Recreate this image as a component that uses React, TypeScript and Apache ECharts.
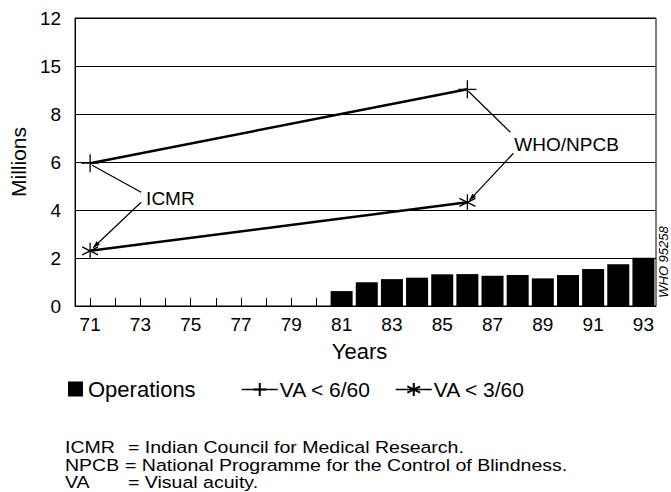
import React, { useEffect, useRef } from "react";
import * as echarts from "echarts";

// ---- data ----
const opYears = [81, 82, 83, 84, 85, 86, 87, 88, 89, 90, 91, 92, 93];
const operations = [0.62, 0.99, 1.12, 1.18, 1.32, 1.33, 1.26, 1.29, 1.15, 1.29, 1.54, 1.74, 2.01];
const surveyYears = [71, 86];
const va6 = [5.95, 9.03];
const va3 = [2.3, 4.32];
const yTickValues = [0, 2, 4, 6, 8, 10, 12];
const yTickLabels = ["0", "2", "4", "6", "8", "15", "12"];
const xTickValues = [71, 72, 73, 74, 75, 76, 77, 78, 79, 80, 81, 82, 83, 84, 85, 86, 87, 88, 89, 90, 91, 92, 93];
const xLabelValues = [71, 73, 75, 77, 79, 81, 83, 85, 87, 89, 91, 93];
const footAbbr = ["ICMR", "NPCB", "VA"];
const footText = [
  "= Indian Council for Medical Research.",
  "= National Programme for the Control of Blindness.",
  "= Visual acuity.",
];

const FONT = "'Liberation Sans', Arial, Helvetica, sans-serif";
const PLUS = "path://M10,0L10,20M0,10L20,10";
const STAR = "path://M10,0L10,20M1.3,5L18.7,15M1.3,15L18.7,5";

export default function App() {
  const ref = useRef<HTMLDivElement>(null);
  useEffect(() => {
    document.body.style.margin = "0";
    const chart = echarts.init(ref.current!, null, { renderer: "svg" });
    const option: any = {
      animation: false,
      backgroundColor: "#fff",
      textStyle: { fontFamily: FONT, color: "#000" },
      grid: { left: 64, right: 15, top: 18, bottom: 186, show: true, borderColor: "#000", borderWidth: 1 },
      xAxis: {
        type: "value",
        min: 70.4,
        max: 93.5,
        name: "Years",
        nameLocation: "middle",
        nameGap: 34,
        nameTextStyle: { fontSize: 22, color: "#000", fontFamily: FONT, padding: [0, 12, 0, 0] },
        axisLine: { show: true, lineStyle: { color: "#000", width: 1 } },
        axisTick: { show: true, inside: true, length: 8, customValues: xTickValues, lineStyle: { color: "#000" } },
        axisLabel: { customValues: xLabelValues, fontSize: 19, color: "#000", margin: 9, fontFamily: FONT },
        splitLine: { show: false },
      },
      yAxis: {
        type: "value",
        min: 0,
        max: 12,
        interval: 2,
        name: "Millions",
        nameLocation: "middle",
        nameGap: 44,
        nameTextStyle: { fontSize: 21, color: "#000", fontFamily: FONT },
        axisLine: { show: true, lineStyle: { color: "#000", width: 1 } },
        axisTick: { show: false },
        axisLabel: {
          fontSize: 19,
          color: "#000",
          margin: 14,
          fontFamily: FONT,
          formatter: (v: number) => yTickLabels[yTickValues.indexOf(v)] ?? String(v),
        },
        splitLine: { show: true, lineStyle: { color: "#000", width: 1 } },
      },
      legend: [
        {
          data: [{ name: "Operations", icon: "rect" }],
          left: 63,
          top: 373,
          itemWidth: 15,
          itemHeight: 15,
          itemGap: 0,
          textStyle: { fontSize: 22, color: "#000", fontFamily: FONT },
        },
        {
          data: ["VA < 6/60", "VA < 3/60"],
          left: 236,
          top: 374,
          itemWidth: 36,
          itemHeight: 16,
          itemGap: 24,
          lineStyle: { width: 1.5 },
          textStyle: { fontSize: 21, color: "#000", fontFamily: FONT, padding: [0, 0, 0, -3] },
        },
      ],
      series: [
        {
          name: "Operations",
          type: "bar",
          barWidth: 22,
          itemStyle: { color: "#000" },
          data: opYears.map((y, i) => [y, operations[i]]),
        },
        {
          name: "VA < 6/60",
          type: "line",
          symbol: PLUS,
          symbolSize: 18,
          color: "#000",
          lineStyle: { color: "#000", width: 2.5 },
          itemStyle: { color: "#000", borderColor: "#000", borderWidth: 1.3 },
          data: surveyYears.map((y, i) => [y, va6[i]]),
        },
        {
          name: "VA < 3/60",
          type: "line",
          symbol: STAR,
          symbolSize: 16,
          color: "#000",
          lineStyle: { color: "#000", width: 2.5 },
          itemStyle: { color: "#000", borderColor: "#000", borderWidth: 1.3 },
          data: surveyYears.map((y, i) => [y, va3[i]]),
        },
      ],
    };
    chart.setOption(option);

    const px = (x: number, y: number) => chart.convertToPixel({ gridIndex: 0 }, [x, y]) as number[];
    const a6 = px(surveyYears[0], va6[0]);
    const a3 = px(surveyYears[0], va3[0]);
    const b6 = px(surveyYears[1], va6[1]);
    const b3 = px(surveyYears[1], va3[1]);
    const thin = { stroke: "#000", lineWidth: 1.2 };

    const arrow = (x1: number, y1: number, x2: number, y2: number) => {
      const dx = x2 - x1, dy = y2 - y1;
      const len = Math.hypot(dx, dy);
      const ux = dx / len, uy = dy / len;
      const bx = x2 - ux * 7, by = y2 - uy * 7;
      return [
        { type: "line", shape: { x1, y1, x2, y2 }, style: thin },
        {
          type: "polygon",
          shape: { points: [[x2, y2], [bx - uy * 2.5, by + ux * 2.5], [bx + uy * 2.5, by - ux * 2.5]] },
          style: { fill: "#000" },
        },
      ];
    };

    const graphic: any[] = [
      { type: "line", shape: { x1: a6[0] + 51, y1: a6[1] + 29, x2: a6[0] + 2, y2: a6[1] + 2 }, style: thin },
      ...arrow(a6[0] + 51, a6[1] + 39, a3[0] + 3, a3[1] - 3),
      {
        type: "text", x: a6[0] + 56, y: a6[1] + 35,
        style: { text: "ICMR", fontSize: 19, fontFamily: FONT, fill: "#000", verticalAlign: "middle", align: "left" },
      },
      { type: "line", shape: { x1: b6[0] + 43, y1: b6[1] + 43, x2: b6[0] + 1, y2: b6[1] + 2 }, style: thin },
      ...arrow(b6[0] + 46, b6[1] + 64, b3[0] + 2, b3[1] - 2),
      {
        type: "text", x: b6[0] + 47, y: b6[1] + 55,
        style: { text: "WHO/NPCB", fontSize: 19, fontFamily: FONT, fill: "#000", verticalAlign: "middle", align: "left" },
      },
      {
        type: "text", x: 663, y: 262, rotation: Math.PI / 2,
        style: { text: "WHO 95258", fontSize: 13, fontStyle: "italic", fontFamily: FONT, fill: "#000", verticalAlign: "middle", align: "center" },
      },
    ];
    footAbbr.forEach((ab, i) => {
      const y = 447 + i * 17.5;
      graphic.push({
        type: "text", x: 65, y, scaleX: 1.15,
        style: { text: ab, fontSize: 17, fontFamily: FONT, fill: "#000", verticalAlign: "middle", align: "left" },
      });
      graphic.push({
        type: "text", x: i === 1 ? 125 : 128, y, scaleX: 1.15,
        style: { text: footText[i], fontSize: 17, fontFamily: FONT, fill: "#000", verticalAlign: "middle", align: "left" },
      });
    });
    chart.setOption({ graphic });

    return () => chart.dispose();
  }, []);
  return <div ref={ref} style={{ width: 671, height: 492, position: "fixed", left: 0, top: 0 }} />;
}
